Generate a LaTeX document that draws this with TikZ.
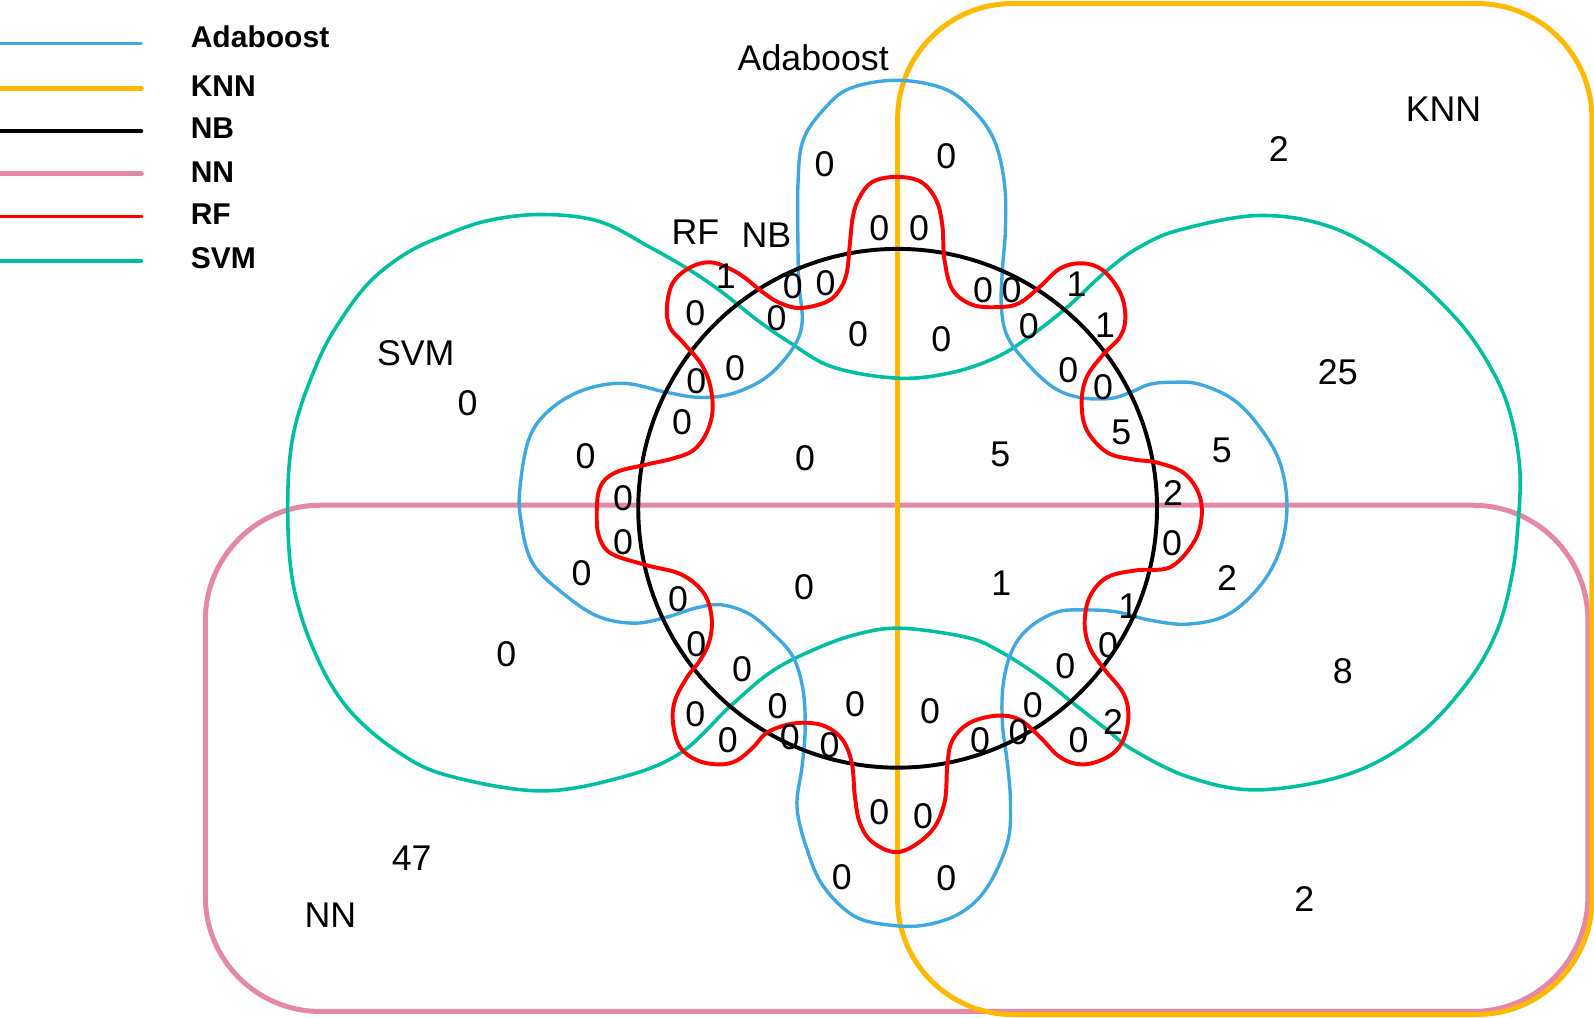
\documentclass[tikz,border=0pt]{standalone}
\usepackage{fontspec}
\setmainfont{Liberation Sans}
\definecolor{adablue}{RGB}{64,168,224}
\definecolor{knnyellow}{RGB}{255,185,0}
\definecolor{nnpink}{RGB}{228,136,166}
\definecolor{rfred}{RGB}{255,0,0}
\definecolor{svmteal}{RGB}{0,190,160}
\tikzset{
  adaboost/.style={draw=adablue, line width=0.95pt},
  knn/.style={draw=knnyellow, line width=1.4pt},
  nb/.style={draw=black, line width=1.1pt},
  nn/.style={draw=nnpink, line width=1.4pt},
  rf/.style={draw=rfred, line width=1.1pt},
  svm/.style={draw=svmteal, line width=1pt},
  lbl/.style={inner sep=0pt, font=\fontsize{10}{12}\selectfont},
  legtxt/.style={anchor=base west, inner sep=0pt, font=\fontsize{8.4}{10}\selectfont\bfseries}
}
\begin{document}
\begin{tikzpicture}[x=0.01cm, y=-0.01cm, line join=round, line cap=round]
  \useasboundingbox (0,0) rectangle (1568,1001);
  \coordinate (O) at (883,500);
  % NN and KNN boxes
  \draw[nn, rounded corners=1.13cm] (202,497) rectangle (1562,995);
  \draw[knn, rounded corners=1.13cm] (883,3.5) rectangle (1566,998);
  % SVM
  \draw[svm] plot[smooth cycle, tension=0.6] coordinates {(534,211) (590,218) (639,243) (679,266) (711,288) (745,315) (777,337) (819,361) (882,372) (934,367) (979,352) (1013,331) (1050,302) (1089,266) (1121,243) (1161,226) (1239,212) (1311,224) (1377,262) (1433,314) (1466,361) (1485,405) (1495,461) (1493,519) (1487,568) (1472,622) (1443,672) (1394,724) (1328,761) (1239,777) (1171,765) (1115,738) (1089,718) (1056,692) (1023,666) (984,641) (951,627) (885,618) (839,625) (794,642) (757,662) (718,695) (669,741) (610,765) (531,778) (441,763) (392,740) (344,699) (312,647) (289,578) (283,500) (289,425) (313,355) (337,312) (365,276) (400,249) (436,232) (480,217)};
  % Adaboost
  \draw[adaboost] plot[smooth cycle, tension=0.6] coordinates {(882,79) (928,87) (957,108) (978,138) (988,180) (989,226) (986,266) (985,302) (991,331) (1010,357) (1036,381) (1062,391) (1092,392) (1112,386) (1131,378) (1154,376) (1180,378) (1213,393) (1239,420) (1259,455) (1266,498) (1259,541) (1239,577) (1207,605) (1168,614) (1131,610) (1099,602) (1069,600) (1040,602) (1013,617) (996,639) (987,672) (986,711) (991,751) (994,790) (991,829) (971,873) (945,898) (910,910) (875,910) (840,901) (810,872) (794,836) (784,794) (789,754) (792,718) (790,679) (780,646) (760,623) (737,604) (710,595) (685,598) (656,607) (625,613) (590,607) (558,587) (524,554) (512,509) (512,475) (521,430) (541,403) (573,384) (613,377) (656,386) (689,391) (721,387) (754,371) (779,344) (789,318) (786,280) (785,246) (785,180) (790,138) (810,108) (836,87)};
  % NB
  \draw[nb] (O) circle[radius=2.55cm];
  % RF
  \draw[rf] plot[smooth cycle, tension=0.6] coordinates {(882,174) (906,179) (921,197) (927,222) (929,255) (937,285) (957,300) (984,302) (1003,298) (1023,282) (1043,264) (1065,259) (1085,266) (1102,288) (1107,312) (1102,331) (1085,349) (1069,371) (1064,396) (1069,423) (1089,445) (1115,452) (1138,455) (1164,465) (1179,485) (1182,509) (1174,534) (1151,558) (1118,561) (1089,568) (1072,587) (1067,613) (1072,637) (1086,658) (1105,682) (1110,705) (1104,730) (1089,745) (1065,752) (1043,745) (1023,725) (1003,708) (981,704) (954,711) (937,728) (932,751) (929,790) (915,819) (885,838) (859,829) (846,810) (841,784) (838,751) (829,728) (813,715) (794,711) (774,713) (754,721) (741,735) (725,748) (708,752) (686,748) (669,735) (662,711) (664,689) (676,666) (689,649) (698,630) (700,607) (692,583) (670,565) (636,556) (602,545) (590,530) (587,509) (590,480) (605,465) (636,457) (662,451) (682,443) (695,426) (701,403) (698,377) (689,357) (672,337) (659,322) (656,302) (662,278) (679,263) (698,258) (715,263) (731,272) (751,288) (767,298) (787,303) (813,297) (826,285) (833,268) (836,240) (839,213) (845,195) (858,179)};
  % set names
  \node[lbl] (adaboost) at (800,57) {Adaboost};
  \node[lbl] (knn) at (1420,107) {KNN};
  \node[lbl] (svm) at (409,347) {SVM};
  \node[lbl] (nn) at (325,900) {NN};
  \node[lbl] (rf) at (684,228) {RF};
  \node[lbl] (nb) at (754,231) {NB};
  % counts
  \foreach \x/\y/\t [count=\i] in {1258/147/2, 1316/366/25, 1321/660/8, 1283/884/2, 405/844/47, 984/447/5, 1103/425/5, 1202/443/5, 1154/485/2, 985/574/1, 1207/569/2, 1110/596/1, 1095/710/2, 714/272/1, 1059/280/1, 1087/320/1}
    {\node[lbl] (n\i) at (\x,\y) {\t};}
  \foreach \x/\y [count=\i] in {811/162, 931/154, 865/224, 904/224, 780/282, 812/279, 684/308, 764/313, 844/329, 926/334, 967/285, 995/285, 1012/321, 1051/364, 1085/381, 723/362, 685/375, 671/415, 460/397, 576/449, 792/451, 613/490, 1153/534, 613/533, 572/564, 791/578, 667/589, 685/634, 498/644, 1090/635, 730/658, 1048/655, 684/703, 765/695, 841/693, 915/700, 1016/694, 716/728, 777/725, 816/733, 964/728, 1002/720, 1061/728, 865/799, 908/803, 828/863, 931/864}
    {\node[lbl] (z\i) at (\x,\y) {0};}
  % legend
  \foreach \y/\b/\s/\t in {43/47/adaboost/Adaboost, 87/95/knn/KNN, 129/136/nb/NB, 171/180/nn/NN, 213/221/rf/RF, 257/264/svm/SVM}
    {\draw[\s] (0,\y) -- (139,\y); \node[legtxt] (leg\t) at (187,\b) {\t};}
\end{tikzpicture}
\end{document}
